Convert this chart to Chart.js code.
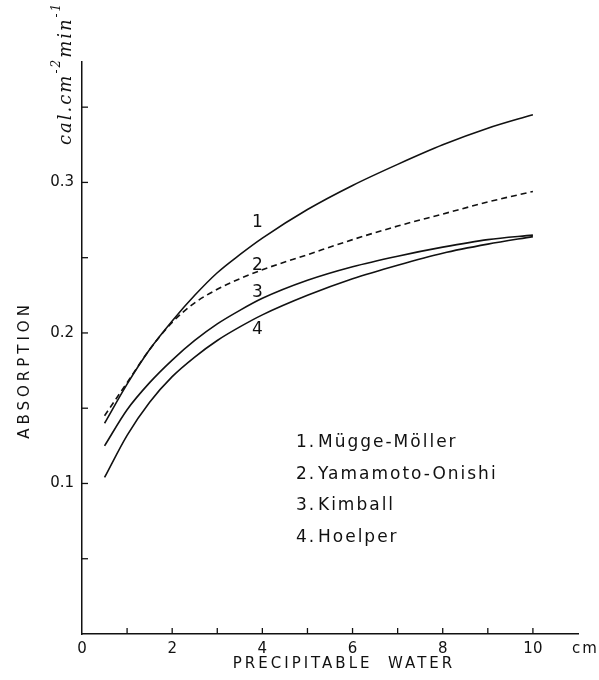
<!DOCTYPE html>
<html>
<head>
<meta charset="utf-8">
<script src="https://cdn.jsdelivr.net/npm/chart.js@4.4.1/dist/chart.umd.min.js"></script>
<style>
  body { margin: 0; background: #fff; }
  canvas { display: block; }
</style>
</head>
<body>
<canvas id="absorption" width="599" height="680"></canvas>
<script>
// precipitable water (cm)
const water = [0.5, 1, 1.5, 2, 2.5, 3, 3.5, 4, 5, 6, 7, 8, 9, 10];
// absorption (cal cm-2 min-1)
const muggeMoller    = [0.140, 0.166, 0.189, 0.208, 0.225, 0.240, 0.252, 0.263, 0.282, 0.298, 0.312, 0.325, 0.336, 0.345];
const yamamotoOnishi = [0.145, 0.167, 0.189, 0.207, 0.220, 0.229, 0.236, 0.242, 0.252, 0.262, 0.271, 0.279, 0.287, 0.294];
const kimball        = [0.125, 0.149, 0.167, 0.182, 0.195, 0.206, 0.215, 0.223, 0.235, 0.244, 0.251, 0.257, 0.262, 0.265];
const hoelper        = [0.104, 0.132, 0.154, 0.171, 0.184, 0.195, 0.204, 0.212, 0.225, 0.236, 0.245, 0.253, 0.259, 0.264];

const legendNames = ['Mügge-Möller', 'Yamamoto-Onishi', 'Kimball', 'Hoelper'];
const curveNumbers = ['1', '2', '3', '4'];
// where the little numbers sit (data coords)
const numberX = [3.89, 3.89, 3.89, 3.89];
const numberY = [0.273, 0.245, 0.227, 0.202];

const xTicks = [1, 2, 3, 4, 5, 6, 7, 8, 9, 10];
const xLabels = [0, 2, 4, 6, 8, 10];
const yTicks = [0.05, 0.1, 0.15, 0.2, 0.25, 0.3, 0.35];
const yLabels = [0.1, 0.2, 0.3];

function pts(ys) {
  return water.map((x, i) => ({ x: x, y: ys[i] }));
}

const serie = (data, dash) => ({
  data: pts(data),
  borderColor: '#111',
  borderWidth: 1.6,
  borderDash: dash,
  pointRadius: 0,
  fill: false,
  cubicInterpolationMode: 'monotone'
});

// dessine les graduations, textes et la légende
const decor = {
  id: 'decor',
  afterDraw(chart) {
    const ctx = chart.ctx;
    const xs = chart.scales.x, ys = chart.scales.y;
    const x0 = xs.getPixelForValue(0), y0 = ys.getPixelForValue(0);
    ctx.save();
    ctx.strokeStyle = '#111';
    ctx.fillStyle = '#111';
    ctx.lineWidth = 1.3;
    // inward tick marks
    xTicks.forEach(v => {
      const px = xs.getPixelForValue(v);
      ctx.beginPath(); ctx.moveTo(px, y0); ctx.lineTo(px, y0 - 6); ctx.stroke();
    });
    yTicks.forEach(v => {
      const py = ys.getPixelForValue(v);
      ctx.beginPath(); ctx.moveTo(x0, py); ctx.lineTo(x0 + 6, py); ctx.stroke();
    });
    // tick labels
    ctx.font = '15px "DejaVu Sans"';
    ctx.textAlign = 'center';
    ctx.textBaseline = 'middle';
    xLabels.forEach(v => ctx.fillText(String(v), xs.getPixelForValue(v), y0 + 15));
    ctx.textAlign = 'left';
    ctx.letterSpacing = '2px';
    ctx.fillText('cm', xs.right - 6, y0 + 15);
    ctx.letterSpacing = '0px';
    ctx.textAlign = 'right';
    yLabels.forEach(v => ctx.fillText(v.toFixed(1), x0 - 8, ys.getPixelForValue(v)));
    // axis titles
    ctx.font = '15px "DejaVu Sans"';
    ctx.letterSpacing = '3px';
    ctx.textAlign = 'center';
    ctx.fillText('PRECIPITABLE  WATER', 344, 664);
    ctx.save();
    ctx.translate(25, 370);
    ctx.rotate(-Math.PI / 2);
    ctx.letterSpacing = '4px';
    ctx.fillText('ABSORPTION', 0, 0);
    ctx.restore();
    // unit
    ctx.save();
    ctx.translate(66, 145);
    ctx.rotate(-Math.PI / 2);
    ctx.letterSpacing = '2px';
    ctx.textAlign = 'left';
    ctx.font = 'italic 18px "DejaVu Serif"';
    ctx.fillText('cal.cm', 0, 0);
    let w = ctx.measureText('cal.cm').width;
    ctx.font = 'italic 12px "DejaVu Serif"';
    ctx.fillText('-2', w, -9);
    w += ctx.measureText('-2').width;
    ctx.font = 'italic 18px "DejaVu Serif"';
    ctx.fillText('min', w, 0);
    w += ctx.measureText('min').width;
    ctx.font = 'italic 12px "DejaVu Serif"';
    ctx.fillText('-1', w, -9);
    ctx.restore();
    // curve numbers
    ctx.letterSpacing = '0px';
    ctx.font = '17px "DejaVu Sans"';
    ctx.textAlign = 'center';
    curveNumbers.forEach((n, i) => {
      ctx.fillText(n, xs.getPixelForValue(numberX[i]), ys.getPixelForValue(numberY[i]));
    });
    // legend
    ctx.textAlign = 'left';
    ctx.font = '17px "DejaVu Sans"';
    ctx.letterSpacing = '2px';
    legendNames.forEach((name, i) => {
      const ly = 443 + i * 31.5;
      ctx.fillText(curveNumbers[i] + '.', 296, ly);
      ctx.fillText(name, 318, ly);
    });
    ctx.restore();
  }
};

new Chart(document.getElementById('absorption'), {
  type: 'line',
  data: {
    datasets: [
      serie(muggeMoller, []),
      serie(yamamotoOnishi, [6, 4]),
      serie(kimball, []),
      serie(hoelper, [])
    ]
  },
  options: {
    responsive: false,
    animation: false,
    devicePixelRatio: 1,
    layout: { padding: { left: 74, right: 21, top: 62, bottom: 38 } },
    plugins: { legend: { display: false }, tooltip: { enabled: false } },
    scales: {
      x: {
        type: 'linear', min: 0, max: 11,
        ticks: { display: false },
        grid: { display: false },
        border: { display: true, color: '#111', width: 1.5 }
      },
      y: {
        type: 'linear', min: 0, max: 0.38,
        ticks: { display: false },
        grid: { display: false },
        border: { display: true, color: '#111', width: 1.5 }
      }
    }
  },
  plugins: [decor]
});
</script>
</body>
</html>
